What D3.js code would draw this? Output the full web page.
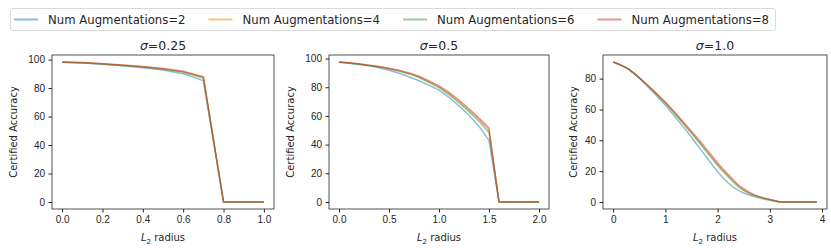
<!DOCTYPE html>
<html>
<head>
<meta charset="utf-8">
<script src="https://d3js.org/d3.v7.min.js"></script>
<style>
  body { margin: 0; background: #fff; }
  svg { font-family: "DejaVu Sans", sans-serif; }
  .tick text { fill: #262626; font-size: 10px; }
  .tick line { stroke: #262626; }
</style>
</head>
<body>
<svg id="chart" width="831" height="248"></svg>
<script>
// series names + colours (tab10, drawn at half opacity)
var seriesNames = ["Num Augmentations=2", "Num Augmentations=4", "Num Augmentations=6", "Num Augmentations=8"];
var seriesColors = ["#1f77b4", "#ff7f0e", "#2ca02c", "#d62728"];

// sigma = 0.25, radius 0.0 .. 1.0
var radius025 = [0, 0.1, 0.2, 0.3, 0.4, 0.5, 0.6, 0.7, 0.8, 0.9, 1.0];
var acc025 = [
  [98.1, 97.6, 96.7, 95.6, 94.3, 92.6, 90.0, 85.2, 0, 0, 0],
  [98.2, 97.8, 97.0, 96.1, 95.0, 93.5, 91.5, 87.5, 0, 0, 0],
  [98.2, 97.7, 96.9, 95.9, 94.8, 93.2, 91.1, 87.0, 0, 0, 0],
  [98.3, 97.9, 97.1, 96.2, 95.1, 93.7, 91.8, 88.0, 0, 0, 0]
];

// sigma = 0.5, radius 0.0 .. 2.0
var radius05 = [0, 0.1, 0.2, 0.3, 0.4, 0.5, 0.6, 0.7, 0.8, 0.9, 1.0, 1.1, 1.2, 1.3, 1.4, 1.5, 1.6, 1.7, 1.8, 1.9, 2.0];
var acc05 = [
  [97.4, 96.7, 95.9, 94.9, 93.6, 91.9, 89.8, 87.3, 84.5, 81.3, 78.0, 73.0, 67.0, 60.5, 52.7, 43.0, 0, 0, 0, 0, 0],
  [97.6, 97.0, 96.2, 95.3, 94.3, 93.1, 91.6, 89.7, 87.3, 83.8, 80.3, 75.5, 70.0, 64.0, 57.5, 50.0, 0, 0, 0, 0, 0],
  [97.5, 96.9, 96.1, 95.2, 94.1, 92.8, 91.2, 89.3, 86.8, 83.3, 79.7, 74.8, 69.2, 63.0, 56.4, 48.2, 0, 0, 0, 0, 0],
  [97.6, 97.0, 96.3, 95.4, 94.4, 93.3, 91.8, 90.0, 87.7, 84.4, 81.0, 76.4, 71.0, 65.0, 58.5, 51.5, 0, 0, 0, 0, 0]
];

// sigma = 1.0, radius 0.0 .. 3.9
var radius10 = [0, 0.1, 0.2, 0.3, 0.4, 0.5, 0.6, 0.7, 0.8, 0.9, 1.0, 1.1, 1.2, 1.3, 1.4, 1.5, 1.6, 1.7, 1.8, 1.9,
                2.0, 2.1, 2.2, 2.3, 2.4, 2.5, 2.6, 2.7, 2.8, 2.9, 3.0, 3.1, 3.2, 3.3, 3.4, 3.5, 3.6, 3.7, 3.8, 3.9];
var acc10 = [
  [90.7, 89.4, 87.8, 85.9, 83.2, 80.3, 77.0, 73.5, 70.0, 66.3, 62.7, 58.7, 54.7, 50.5, 46.3, 42.0, 37.5, 33.0, 28.5, 24.0,
   19.6, 15.8, 12.5, 9.6, 7.5, 5.8, 4.5, 3.5, 2.5, 1.7, 1.1, 0.5, 0, 0, 0, 0, 0, 0, 0, 0],
  [90.8, 89.5, 88.0, 86.2, 83.5, 80.6, 77.5, 74.3, 71.0, 67.7, 64.3, 60.6, 56.8, 52.9, 49.0, 45.0, 41.0, 37.0, 32.7, 28.5,
   24.3, 20.5, 17.0, 13.5, 10.2, 7.8, 5.8, 4.3, 3.2, 2.3, 1.6, 0.8, 0, 0, 0, 0, 0, 0, 0, 0],
  [90.8, 89.5, 88.0, 86.1, 83.4, 80.5, 77.3, 74.1, 70.8, 67.4, 64.0, 60.3, 56.4, 52.5, 48.5, 44.5, 40.4, 36.3, 32.0, 27.8,
   23.7, 19.9, 16.4, 13.0, 9.8, 7.5, 5.6, 4.2, 3.1, 2.2, 1.5, 0.7, 0, 0, 0, 0, 0, 0, 0, 0],
  [90.8, 89.5, 88.0, 86.2, 83.6, 80.7, 77.7, 74.6, 71.4, 68.1, 64.8, 61.2, 57.5, 53.7, 49.8, 45.9, 42.0, 38.0, 33.8, 29.6,
   25.4, 21.6, 18.0, 14.4, 11.0, 8.7, 6.5, 4.8, 3.5, 2.5, 1.7, 0.9, 0, 0, 0, 0, 0, 0, 0, 0]
];

var xTicks025 = [0, 0.2, 0.4, 0.6, 0.8, 1.0];
var xTicks05 = [0, 0.5, 1.0, 1.5, 2.0];
var xTicks10 = [0, 1, 2, 3, 4];
var yTicks100 = [0, 20, 40, 60, 80, 100];
var yTicks80 = [0, 20, 40, 60, 80];

var panels = [
  {title: "0.25", xs: radius025, ys: acc025, xt: xTicks025, yt: yTicks100, fmt: d3.format(".1f"), left: 52, right: 274, ylab: 13},
  {title: "0.5", xs: radius05, ys: acc05, xt: xTicks05, yt: yTicks100, fmt: d3.format(".1f"), left: 329, right: 549, ylab: 290},
  {title: "1.0", xs: radius10, ys: acc10, xt: xTicks10, yt: yTicks80, fmt: d3.format("d"), left: 603, right: 827, ylab: 573}
];

var svg = d3.select("#chart");
var top_ = 55, bottom = 209;

// matplotlib style 5% margins
function padded(ext) {
  var m = (ext[1] - ext[0]) * 0.05;
  return [ext[0] - m, ext[1] + m];
}

panels.forEach(function(p) {
  var x = d3.scaleLinear(padded(d3.extent(p.xs)), [p.left, p.right]);
  var allY = d3.merge(p.ys);
  var y = d3.scaleLinear(padded(d3.extent(allY)), [bottom, top_]);
  var g = svg.append("g");

  g.append("g")
    .attr("transform", "translate(0," + bottom + ")")
    .call(d3.axisBottom(x).tickValues(p.xt).tickFormat(p.fmt).tickSize(3.5).tickPadding(3.5))
    .call(a => a.select(".domain").remove());
  g.append("g")
    .attr("transform", "translate(" + p.left + ",0)")
    .call(d3.axisLeft(y).tickValues(p.yt).tickSize(3.5).tickPadding(3.5))
    .call(a => a.select(".domain").remove());

  var line = d3.line().x((d, i) => x(p.xs[i])).y(d => y(d));
  p.ys.forEach(function(s, k) {
    g.append("path")
      .attr("d", line(s))
      .attr("fill", "none")
      .attr("stroke", seriesColors[k])
      .attr("stroke-opacity", 0.5)
      .attr("stroke-width", 1.5)
      .attr("stroke-linejoin", "round");
  });

  // frame
  g.append("rect")
    .attr("x", p.left).attr("y", top_)
    .attr("width", p.right - p.left).attr("height", bottom - top_)
    .attr("fill", "none").attr("stroke", "#262626").attr("stroke-width", 0.8);

  var cx = (p.left + p.right) / 2;
  var t = g.append("text").attr("x", cx).attr("y", 50)
    .attr("text-anchor", "middle").attr("font-size", 12.5).attr("fill", "#262626");
  t.append("tspan").attr("font-style", "italic").text("σ");
  t.append("tspan").text("=" + p.title);

  var xl = g.append("text").attr("x", cx).attr("y", 241)
    .attr("text-anchor", "middle").attr("font-size", 10).attr("fill", "#262626");
  xl.append("tspan").attr("font-style", "italic").text("L");
  xl.append("tspan").attr("font-size", 7).attr("dy", 2.5).text("2");
  xl.append("tspan").attr("dy", -2.5).text(" radius");

  g.append("text")
    .attr("transform", "translate(" + (p.ylab + 4) + "," + ((top_ + bottom) / 2) + ") rotate(-90)")
    .attr("text-anchor", "middle").attr("font-size", 10).attr("fill", "#262626")
    .text("Certified Accuracy");
});

// legend, one row across the top
var legX = [14, 208.5, 403, 597.5];
var leg = svg.append("g");
leg.append("rect").attr("x", 10.5).attr("y", 8.5).attr("width", 765).attr("height", 22)
  .attr("rx", 2.5).attr("fill", "#fff").attr("stroke", "#d0d0d0").attr("stroke-width", 0.8);
seriesNames.forEach(function(n, k) {
  leg.append("line")
    .attr("x1", legX[k]).attr("x2", legX[k] + 24).attr("y1", 19.5).attr("y2", 19.5)
    .attr("stroke", seriesColors[k]).attr("stroke-opacity", 0.5).attr("stroke-width", 2);
  leg.append("text")
    .attr("x", legX[k] + 34).attr("y", 24)
    .attr("font-size", 11.7).attr("fill", "#262626")
    .text(n);
});
</script>
</body>
</html>
